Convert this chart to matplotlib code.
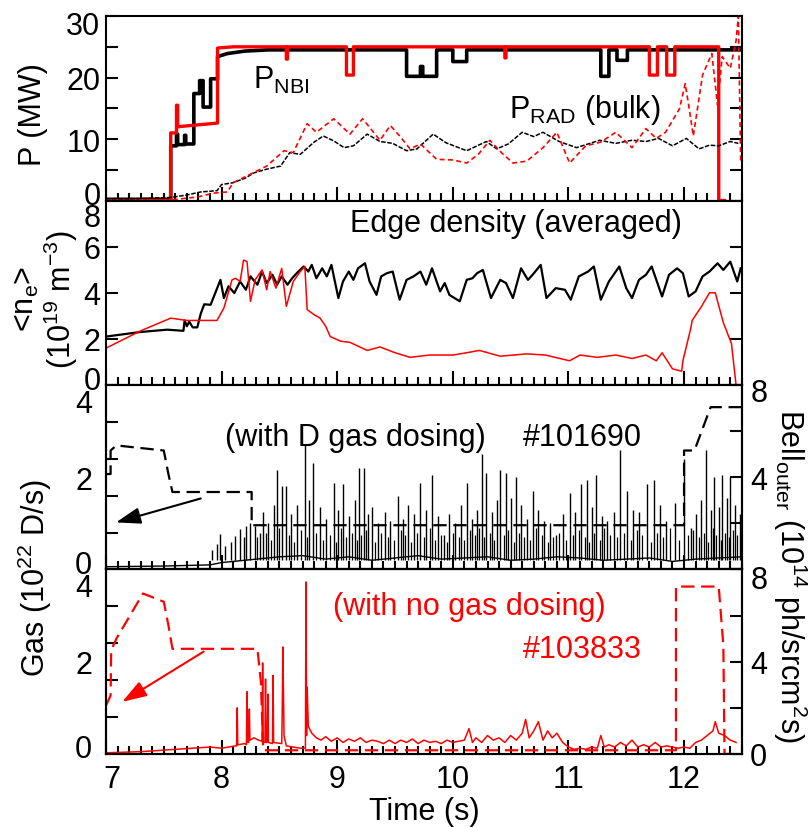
import matplotlib
matplotlib.use("Agg")
import matplotlib.pyplot as plt
from matplotlib.ticker import MultipleLocator, FixedLocator, NullFormatter
from matplotlib.transforms import ScaledTranslation

plt.rcParams.update({
    "font.family": ["Liberation Sans", "DejaVu Sans"],
    "font.size": 22,
    "mathtext.fontset": "custom",
    "mathtext.rm": "Liberation Sans",
    "mathtext.it": "Liberation Sans:italic",
    "mathtext.bf": "Liberation Sans:bold",
    "axes.linewidth": 1.5,
})
RED = "#ff0000"

# ---------------- panel 1: heating / radiated power (MW) ----------------
nbi_b_t = [7.00, 7.56, 7.56, 7.61, 7.61, 7.62, 7.62, 7.68, 7.68, 7.69,
           7.69, 7.76, 7.76, 7.81, 7.81, 7.84, 7.84, 7.905, 7.905, 7.965,
           7.965, 8.05, 8.20, 8.40, 9.60, 9.60, 9.72, 9.72, 9.74, 9.74,
           9.86, 9.86, 10.00, 10.00, 10.12, 10.12, 11.28, 11.28, 11.35, 11.35,
           11.42, 11.42, 11.51, 11.51, 12.50]
nbi_b = [0.2, 0.2, 8.9, 8.9, 10.8, 10.8, 9.1, 9.1, 10.6, 10.6,
         9.2, 9.2, 17.4, 17.4, 19.5, 19.5, 15.2, 15.2, 19.8, 19.8,
         23.4, 23.9, 24.3, 24.5, 24.5, 20.2, 20.2, 21.8, 21.8, 20.2,
         20.2, 24.5, 24.5, 22.6, 22.6, 24.5, 24.5, 20.2, 20.2, 24.5,
         24.5, 22.8, 22.8, 24.5, 24.5]

nbi_r_t = [7.00, 7.56, 7.56, 7.61, 7.61, 7.62, 7.62, 7.965, 7.965, 8.10,
           8.56, 8.56, 8.57, 8.57, 9.08, 9.08, 9.14, 9.14, 10.45, 10.45,
           10.46, 10.46, 11.70, 11.70, 11.77, 11.77, 11.85, 11.85, 11.92, 11.92,
           12.30, 12.30, 12.35]
nbi_r = [0.0, 0.0, 11.0, 11.0, 15.5, 15.5, 12.0, 12.6, 24.8, 25.0,
         25.0, 23.0, 23.0, 25.0, 25.0, 20.4, 20.4, 25.0, 25.0, 23.2,
         23.2, 25.0, 25.0, 20.4, 20.4, 25.0, 25.0, 20.4, 20.4, 25.0,
         25.0, 0.0, 0.0]

prad_b_t = [7.00, 7.20, 7.40, 7.56, 7.70, 7.82, 7.96, 8.00, 8.10, 8.20,
            8.28, 8.39, 8.51, 8.59, 8.68, 8.80, 8.88, 8.97, 9.06, 9.14,
            9.26, 9.37, 9.48, 9.60, 9.69, 9.83, 9.94, 10.12, 10.29, 10.38,
            10.48, 10.60, 10.70, 10.78, 10.92, 11.07, 11.17, 11.27, 11.41, 11.55,
            11.67, 11.78, 11.90, 12.02, 12.13, 12.22, 12.30, 12.40, 12.47]
prad_b = [0.3, 0.2, 0.4, 0.5, 0.9, 1.4, 1.6, 2.6, 2.9, 3.6,
          4.5, 5.1, 5.6, 7.8, 7.5, 9.5, 10.5, 9.7, 8.6, 8.9,
          10.8, 9.6, 9.3, 8.1, 8.4, 10.8, 9.4, 8.1, 9.6, 8.4,
          9.2, 11.1, 10.4, 11.1, 9.6, 8.6, 9.2, 9.8, 9.3, 9.8,
          9.6, 10.1, 8.9, 10.1, 8.4, 9.0, 8.9, 9.6, 9.3]

prad_r_t = [7.00, 7.56, 7.80, 7.93, 8.05, 8.10, 8.25, 8.39, 8.54, 8.62,
            8.74, 8.82, 8.97, 9.11, 9.22, 9.37, 9.46, 9.54, 9.63, 9.72,
            9.86, 10.00, 10.12, 10.22, 10.32, 10.42, 10.52, 10.64, 10.78, 10.90,
            11.01, 11.15, 11.28, 11.41, 11.55, 11.67, 11.76, 11.84, 11.96, 12.01,
            12.04, 12.08, 12.16, 12.24, 12.29, 12.33, 12.40, 12.45, 12.47, 12.49]
prad_r = [0.0, 0.1, 0.6, 1.2, 1.4, 2.9, 4.3, 5.6, 8.1, 7.8,
          12.5, 11.1, 13.3, 10.8, 13.3, 9.8, 12.2, 10.5, 8.4, 9.2,
          6.7, 6.6, 6.1, 7.5, 9.8, 7.8, 6.1, 6.4, 8.6, 11.1,
          6.1, 8.9, 9.5, 11.1, 8.6, 11.7, 10.1, 11.1, 14.9, 19.0,
          15.5, 10.5, 20.4, 23.9, 15.5, 23.4, 21.5, 26.0, 30.0, 6.1]

# ---------------- panel 2: edge density (1e19 m^-3) ----------------
dens_b_t = [7.00, 7.30, 7.53, 7.67, 7.68, 7.70, 7.72, 7.75, 7.79, 7.82,
            7.85, 7.905, 7.99, 8.02, 8.06, 8.11, 8.16, 8.21, 8.25, 8.31,
            8.35, 8.39, 8.44, 8.48, 8.52, 8.57, 8.61, 8.65, 8.71, 8.75,
            8.78, 8.82, 8.87, 8.91, 8.95, 9.01, 9.05, 9.10, 9.14, 9.18,
            9.24, 9.28, 9.34, 9.38, 9.43, 9.48, 9.54, 9.60, 9.66, 9.72,
            9.77, 9.82, 9.89, 9.93, 9.97, 10.06, 10.12, 10.17, 10.21, 10.26,
            10.33, 10.41, 10.46, 10.52, 10.59, 10.65, 10.69, 10.76, 10.81, 10.89,
            10.97, 11.02, 11.09, 11.17, 11.22, 11.28, 11.35, 11.44, 11.50, 11.55,
            11.61, 11.67, 11.72, 11.81, 11.87, 11.94, 11.99, 12.04, 12.10, 12.16,
            12.22, 12.29, 12.34, 12.40, 12.46, 12.49]
dens_b = [2.1, 2.3, 2.4, 2.35, 2.8, 2.55, 2.75, 2.5, 2.5, 3.1,
          3.5, 3.48, 4.56, 3.77, 4.28, 3.99, 4.49, 4.13, 4.71, 4.35,
          4.92, 4.42, 4.78, 4.35, 4.71, 4.35, 4.63, 4.85, 5.14, 4.92,
          5.21, 4.63, 5.06, 4.71, 5.21, 3.77, 4.49, 4.92, 4.56, 5.06,
          5.28, 4.49, 3.91, 4.71, 4.85, 4.92, 3.70, 4.56, 4.71, 4.92,
          4.35, 5.06, 4.06, 4.42, 3.91, 3.63, 4.56, 4.63, 4.85, 4.99,
          3.77, 4.56, 4.42, 3.77, 5.06, 4.56, 4.78, 5.21, 3.77, 4.20,
          4.13, 3.70, 4.71, 4.92, 5.14, 3.70, 4.49, 5.14, 4.20, 3.77,
          4.56, 4.78, 5.14, 3.84, 4.78, 5.06, 4.85, 3.84, 4.06, 4.71,
          4.92, 5.28, 4.99, 5.35, 4.49, 5.06]

dens_r_t = [7.00, 7.30, 7.56, 7.70, 7.96, 8.02, 8.09, 8.12, 8.16, 8.19,
            8.22, 8.25, 8.29, 8.35, 8.39, 8.42, 8.47, 8.52, 8.56, 8.62,
            8.68, 8.72, 8.74, 8.80, 8.85, 8.90, 8.94, 9.03, 9.11, 9.26,
            9.37, 9.50, 9.63, 9.80, 10.00, 10.12, 10.23, 10.41, 10.64, 10.80,
            11.01, 11.10, 11.25, 11.41, 11.55, 11.67, 11.76, 11.81, 11.90, 11.98,
            11.99, 12.06, 12.07, 12.15, 12.22, 12.27, 12.34, 12.41, 12.45]
dens_r = [1.6, 2.35, 2.9, 2.8, 2.8, 3.34, 4.56, 4.63, 4.49, 5.42,
          5.35, 3.63, 4.56, 4.99, 4.13, 4.92, 4.20, 5.06, 3.41, 4.49,
          4.92, 5.14, 3.27, 3.05, 2.91, 2.55, 2.1, 1.9, 1.85, 1.5,
          1.65, 1.4, 1.2, 1.3, 1.3, 1.4, 1.5, 1.25, 1.35, 1.3,
          1.05, 1.3, 1.2, 1.3, 1.15, 1.3, 1.05, 1.4, 0.7, 0.6,
          1.05, 2.5, 2.8, 3.4, 4.0, 4.0, 2.7, 1.8, 0.0]

# ---------------- panel 3: #101690, D gas dosing ----------------
gas_b_t = [7.00, 7.04, 7.04, 7.09, 7.50, 7.54, 7.575, 8.26, 8.26, 12.00,
           12.00, 12.09, 12.23, 12.50]
gas_b = [2.07, 2.07, 2.58, 2.69, 2.58, 2.07, 1.68, 1.68, 0.96, 0.96,
         2.58, 2.58, 3.52, 3.52]

bell_b_t = [7.00, 7.50, 7.90, 8.00, 8.10, 8.30, 8.50, 8.70, 8.90, 9.10,
            9.30, 9.50, 9.70, 9.90, 10.10, 10.30, 10.50, 10.70, 10.90, 11.10,
            11.30, 11.50, 11.70, 11.90, 12.10, 12.30, 12.50]
bell_b = [0.12, 0.15, 0.2, 0.3, 0.35, 0.45, 0.55, 0.6, 0.45, 0.55,
          0.4, 0.5, 0.6, 0.45, 0.5, 0.55, 0.4, 0.45, 0.55, 0.5,
          0.4, 0.45, 0.5, 0.35, 0.45, 0.5, 0.55]

# large ELM peaks
elm_t = [7.92, 7.96, 7.99, 8.03, 8.08, 8.12, 8.16, 8.19, 8.21, 8.25,
         8.29, 8.33, 8.36, 8.40, 8.45, 8.48, 8.52, 8.56, 8.60, 8.65,
         8.72, 8.76, 8.79, 8.85, 8.90, 8.97, 9.01, 9.05, 9.10, 9.15,
         9.19, 9.23, 9.27, 9.30, 9.35, 9.41, 9.46, 9.53, 9.57, 9.61,
         9.66, 9.72, 9.77, 9.82, 9.87, 9.92, 9.97, 10.02, 10.07, 10.12,
         10.17, 10.21, 10.25, 10.29, 10.34, 10.38, 10.41, 10.46, 10.50, 10.55,
         10.59, 10.64, 10.69, 10.74, 10.79, 10.84, 10.89, 10.95, 11.01, 11.06,
         11.11, 11.16, 11.20, 11.24, 11.29, 11.33, 11.39, 11.45, 11.51, 11.56,
         11.61, 11.68, 11.74, 11.79, 11.84, 11.92, 12.00, 12.06, 12.10, 12.15,
         12.19, 12.23, 12.26, 12.30, 12.33, 12.37, 12.40, 12.44, 12.48]
elm_h = [0.84, 1.1, 1.56, 1.0, 1.2, 1.47, 1.77, 1.4, 1.9, 2.0,
         1.9, 1.6, 2.5, 2.0, 2.8, 4.3, 3.6, 3.6, 2.4, 2.8,
         5.4, 3.0, 4.6, 2.7, 2.2, 3.75, 2.6, 3.7, 2.3, 3.0,
         4.4, 4.4, 2.4, 2.7, 2.0, 2.5, 2.1, 3.2, 2.2, 2.8,
         2.4, 3.75, 2.6, 4.1, 2.3, 1.5, 2.4, 2.0, 2.8, 3.75,
         2.2, 2.6, 5.0, 4.2, 2.5, 3.0, 4.3, 4.2, 3.1, 4.0,
         2.8, 2.2, 3.4, 2.6, 2.1, 2.0, 1.5, 2.4, 3.3, 2.5,
         3.7, 3.9, 2.7, 4.1, 2.3, 2.1, 2.5, 5.2, 3.4, 2.6,
         2.5, 3.7, 3.9, 2.8, 2.1, 2.9, 4.8, 1.8, 2.4, 3.0,
         5.2, 2.6, 4.0, 2.7, 4.1, 3.1, 4.0, 2.8, 2.4]

# smaller ELM "grass" between the large ones
grass_t = [8.31, 8.38, 8.43, 8.50, 8.58, 8.63, 8.69, 8.74, 8.82, 8.88,
           8.94, 8.99, 9.03, 9.08, 9.13, 9.17, 9.21, 9.25, 9.33, 9.38,
           9.44, 9.49, 9.55, 9.59, 9.64, 9.69, 9.75, 9.80, 9.85, 9.90,
           9.95, 10.00, 10.05, 10.10, 10.15, 10.19, 10.23, 10.27, 10.32, 10.36,
           10.44, 10.48, 10.53, 10.57, 10.62, 10.67, 10.72, 10.77, 10.82, 10.87,
           10.92, 10.98, 11.04, 11.09, 11.14, 11.18, 11.22, 11.27, 11.31, 11.36,
           11.42, 11.48, 11.54, 11.59, 11.64, 11.71, 11.77, 11.82, 11.88, 11.96,
           12.03, 12.08, 12.13, 12.17, 12.21, 12.25, 12.28, 12.32, 12.35, 12.39,
           12.42, 12.46]
grass_h = [1.4, 1.6, 1.3, 1.8, 1.5, 1.2, 1.7, 1.4, 1.6, 1.3,
           1.5, 1.2, 1.8, 1.4, 1.6, 1.3, 1.5, 1.7, 1.2, 1.6,
           1.4, 1.3, 1.7, 1.5, 1.2, 1.6, 1.4, 1.8, 1.3, 1.5,
           1.2, 1.6, 1.4, 1.3, 1.7, 1.5, 1.8, 1.4, 1.6, 1.3,
           1.5, 1.7, 1.2, 1.6, 1.4, 1.3, 1.8, 1.5, 1.2, 1.4,
           1.6, 1.3, 1.5, 1.7, 1.4, 1.2, 1.6, 1.3, 1.8, 1.5,
           1.4, 1.6, 1.3, 1.7, 1.5, 1.2, 1.6, 1.4, 1.8, 1.3,
           1.5, 1.7, 1.4, 1.6, 1.2, 1.8, 1.5, 1.3, 1.6, 1.4,
           1.7, 1.5]

# ---------------- panel 4: #103833, no gas dosing ----------------
gas_r_t = [7.00, 7.04, 7.045, 7.09, 7.32, 7.50, 7.54, 7.575, 8.31, 8.34,
           8.36, 11.93, 11.93, 12.30, 12.34, 12.35, 12.45]
gas_r = [1.05, 1.27, 2.25, 2.5, 3.48, 3.30, 2.79, 2.28, 2.28, 1.56,
         0.08, 0.08, 3.63, 3.63, 2.35, 0.0, 0.0]

bell_r_t = [7.00, 7.30, 7.60, 7.90, 8.00, 8.12, 8.13, 8.135, 8.14, 8.20,
            8.215, 8.22, 8.225, 8.235, 8.24, 8.245, 8.28, 8.32, 8.35, 8.355,
            8.36, 8.375, 8.38, 8.385, 8.395, 8.40, 8.405, 8.44, 8.445, 8.45,
            8.52, 8.525, 8.53, 8.54, 8.56, 8.62, 8.68, 8.725, 8.73, 8.735,
            8.74, 8.75, 8.78, 8.82, 8.86, 8.90, 8.95, 9.00, 9.05, 9.10,
            9.15, 9.20, 9.25, 9.30, 9.35, 9.40, 9.45, 9.50, 9.55, 9.60,
            9.65, 9.70, 9.75, 9.80, 9.85, 9.90, 9.95, 10.00, 10.05, 10.10,
            10.14, 10.17, 10.20, 10.25, 10.30, 10.35, 10.40, 10.45, 10.50, 10.55,
            10.60, 10.63, 10.66, 10.70, 10.74, 10.78, 10.82, 10.86, 10.90, 10.95,
            11.00, 11.05, 11.10, 11.15, 11.20, 11.25, 11.28, 11.31, 11.35, 11.40,
            11.45, 11.50, 11.55, 11.60, 11.65, 11.70, 11.75, 11.80, 11.85, 11.90,
            11.95, 12.00, 12.05, 12.10, 12.15, 12.20, 12.25, 12.27, 12.30, 12.35,
            12.40, 12.45]
bell_r = [0.05, 0.1, 0.2, 0.3, 0.25, 0.35, 0.35, 2.0, 0.4, 0.45,
          0.4, 2.7, 0.5, 0.5, 1.95, 0.6, 0.7, 0.6, 0.55, 3.95,
          0.5, 0.5, 3.25, 0.5, 0.5, 2.6, 0.5, 0.45, 3.4, 0.5,
          0.45, 2.0, 4.64, 0.8, 0.35, 0.3, 0.25, 0.25, 7.46, 0.8,
          2.9, 1.2, 0.9, 0.7, 0.6, 0.75, 0.55, 0.7, 0.5, 0.65,
          0.55, 0.7, 0.5, 0.6, 0.55, 0.45, 0.6, 0.45, 0.6, 0.5,
          0.65, 0.45, 0.6, 0.5, 0.55, 0.45, 0.6, 0.5, 0.55, 0.6,
          1.1, 0.5, 0.7, 0.5, 0.8, 0.6, 0.7, 0.5, 0.8, 0.6,
          0.9, 1.5, 0.7, 1.0, 1.4, 0.6, 1.0, 0.7, 0.9, 0.5,
          0.3, 0.2, 0.25, 0.2, 0.3, 0.25, 0.8, 0.3, 0.4, 0.3,
          0.5, 0.35, 0.6, 0.3, 0.4, 0.3, 0.5, 0.3, 0.35, 0.3,
          0.25, 0.3, 0.25, 0.5, 0.6, 0.8, 1.0, 1.4, 0.9, 0.8,
          0.6, 0.5]

# ---------------- figure ----------------
fig = plt.figure(figsize=(8.09, 8.28), dpi=100)
L, W, H, B0 = 0.131, 0.786, 0.2228, 0.0882
ax1 = fig.add_axes([L, B0 + 3 * H, W, H])
ax2 = fig.add_axes([L, B0 + 2 * H, W, H], sharex=ax1)
ax3 = fig.add_axes([L, B0 + H, W, H], sharex=ax1)
ax4 = fig.add_axes([L, B0, W, H], sharex=ax1)
ax3r = ax3.twinx()
ax4r = ax4.twinx()

ax1.plot(nbi_b_t, nbi_b, color="k", lw=2.6)
ax1.plot(nbi_r_t, nbi_r, color=RED, lw=2.4)
ax1.plot(prad_b_t, prad_b, color="k", lw=1.1, ls=(0, (3, 1)))
ax1.plot(prad_r_t, prad_r, color=RED, lw=1.2, ls=(0, (3, 2)))
ax1.text(8.27, 18.3, r"P$_{\mathrm{NBI}}$", ha="left", va="baseline")
ax1.text(10.49, 13.6, r"P$_{\mathrm{RAD}}$ (bulk)", ha="left", va="baseline")

ax2.plot(dens_b_t, dens_b, color="k", lw=1.6)
ax2.plot(dens_r_t, dens_r, color=RED, lw=1.1)
ax2.text(10.55, 6.67, "Edge density (averaged)", ha="center", va="baseline")

ax3.plot(gas_b_t, gas_b, color="k", lw=1.6, dashes=(6, 3))
ax3r.plot(bell_b_t, bell_b, color="k", lw=1.0)
ax3r.vlines(grass_t, 0.4, grass_h, color="k", lw=0.9)
ax3r.vlines(elm_t, 0.4, elm_h, color="k", lw=1.0)
ax3.text(9.16, 2.69, "(with D gas dosing)", ha="center", va="baseline")
ax3.text(11.12, 2.69, "#101690", ha="center", va="baseline")
ax3.annotate("", xy=(7.086, 1.02), xytext=(7.82, 1.54),
             arrowprops=dict(arrowstyle="-|>,head_length=0.6,head_width=0.2",
                             color="k", lw=1.5, mutation_scale=25,
                             shrinkA=0, shrinkB=0))

ax4.plot(gas_r_t, gas_r, color=RED, lw=1.6, dashes=(6, 3))
ax4r.plot(bell_r_t, bell_r, color=RED, lw=1.1)
ax4.text(10.14, 3.04, "(with no gas dosing)", ha="center", va="baseline", color=RED)
ax4.text(11.12, 2.1, "#103833", ha="center", va="baseline", color=RED)
ax4.annotate("", xy=(7.14, 1.13), xytext=(7.845, 2.22),
             arrowprops=dict(arrowstyle="-|>,head_length=0.6,head_width=0.2",
                             color=RED, lw=1.5, mutation_scale=25,
                             shrinkA=0, shrinkB=0))

# ---------------- axes ----------------
ax1.set_xlim(7.0, 12.5)
ax1.xaxis.set_major_locator(FixedLocator([7, 8, 9, 10, 11, 12]))
ax1.xaxis.set_minor_locator(MultipleLocator(0.1))
for ax in (ax1, ax2, ax3, ax4):
    ax.tick_params(axis="x", which="both", direction="in", top=False,
                   bottom=True, width=1.5, labelbottom=(ax is ax4), pad=7)
    ax.tick_params(axis="x", which="major", length=10)
    ax.tick_params(axis="x", which="minor", length=5.5)

ax1.set_ylim(0, 30)
ax1.yaxis.set_major_locator(FixedLocator([0, 10, 20, 30]))
ax1.yaxis.set_minor_locator(FixedLocator([5, 15, 25]))
ax2.set_ylim(0, 8)
ax2.yaxis.set_major_locator(FixedLocator([0, 2, 4, 6, 8]))
for ax in (ax1, ax2):
    ax.tick_params(axis="y", which="both", direction="in", left=True,
                   right=True, length=8.6, width=1.5, pad=4)

for ax, axr, rlabels in ((ax3, ax3r, ["", "", "4", "", "8"]),
                         (ax4, ax4r, ["0", "", "4", "", "8"])):
    ax.set_ylim(0, 4)
    ax.yaxis.set_major_locator(FixedLocator([0, 2, 4]))
    ax.yaxis.set_minor_locator(FixedLocator([0.8, 1.6, 2.4, 3.2]))
    ax.yaxis.set_minor_formatter(NullFormatter())
    ax.tick_params(axis="y", which="major", direction="in", length=0, pad=10)
    ax.tick_params(axis="y", which="minor", direction="in", length=8.6, width=1.5)
    axr.set_ylim(0, 8)
    axr.set_yticks([0, 2, 4, 6, 8], rlabels)
    axr.tick_params(axis="y", direction="in", length=8.6, width=1.5, pad=6)


def nudge(label, dx_px=0, dy_px=0):
    off = ScaledTranslation(dx_px / 100, dy_px / 100, fig.dpi_scale_trans)
    label.set_transform(label.get_transform() + off)


# end labels sit a little inside their own panel, as in the original
for ax, top_dy in ((ax1, -6), (ax2, -14), (ax3, -15), (ax4, -15)):
    labs = ax.yaxis.get_majorticklabels()
    nudge(labs[0], dy_px=8)
    nudge(labs[-1], dy_px=top_dy)
nudge(ax3r.yaxis.get_majorticklabels()[-1], dy_px=-4)
nudge(ax4r.yaxis.get_majorticklabels()[-1], dy_px=-7)
nudge(ax4.xaxis.get_majorticklabels()[0], dx_px=6)

ax1.set_ylabel("P (MW)", va="center")
ax1.yaxis.set_label_coords(-0.115, 0.47)
ax2.set_ylabel("<n$_{\\mathrm{e}}$>\n(10$^{19}$ m$^{-3}$)", va="center",
               linespacing=1.0)
ax2.yaxis.set_label_coords(-0.095, 0.47)
ax4.set_ylabel("Gas (10$^{22}$ D/s)", va="center")
ax4.yaxis.set_label_coords(-0.112, 0.96)
fig.text(0.977, 0.305, "Bell$_{\\mathrm{outer}}$ (10$^{14}$ ph/srcm$^2$s)",
         rotation=-90, ha="center", va="center")
ax4.set_xlabel("Time (s)", labelpad=2)

fig.savefig("out.png", dpi=100)
